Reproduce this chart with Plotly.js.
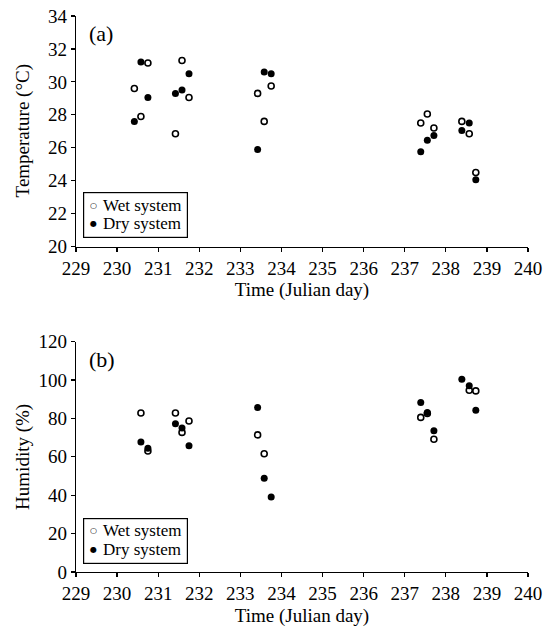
<!DOCTYPE html>
<html>
<head>
<meta charset="utf-8">
<script src="https://cdn.plot.ly/plotly-3.0.1.min.js"></script>
<style>html,body{margin:0;padding:0;background:#fff;}#chart{width:547px;height:630px;}</style>
</head>
<body>
<div id="chart"></div>
<script>
// Panel (a): temperature
const tempWetDay = [230.42, 230.58, 230.75, 231.42, 231.58, 231.75, 233.42, 233.58, 233.75, 237.39, 237.55, 237.71, 238.39, 238.57, 238.73];
const tempWet    = [29.6, 27.9, 31.15, 26.85, 31.3, 29.05, 29.3, 27.6, 29.75, 27.5, 28.05, 27.2, 27.6, 26.85, 24.5];
const tempDryDay = [230.42, 230.58, 230.75, 231.42, 231.58, 231.75, 233.42, 233.58, 233.75, 237.39, 237.55, 237.71, 238.39, 238.57, 238.73];
const tempDry    = [27.6, 31.2, 29.05, 29.3, 29.5, 30.5, 25.9, 30.6, 30.5, 25.75, 26.45, 26.75, 27.05, 27.5, 24.05];
// Panel (b): humidity
const humWetDay = [230.58, 230.75, 231.42, 231.58, 231.75, 233.42, 233.58, 237.39, 237.55, 237.71, 238.57, 238.73];
const humWet    = [82.8, 63.0, 82.8, 72.7, 78.6, 71.4, 61.6, 80.5, 82.5, 69.1, 94.6, 94.3];
const humDryDay = [230.58, 230.75, 231.42, 231.58, 231.75, 233.42, 233.58, 233.75, 237.39, 237.55, 237.71, 238.39, 238.57, 238.73];
const humDry    = [67.7, 64.4, 77.2, 75.0, 65.8, 85.6, 48.8, 39.0, 88.3, 83.1, 73.6, 100.3, 97.0, 84.2];

const xTicks = [229,230,231,232,233,234,235,236,237,238,239,240];
const tempTicks = [20,22,24,26,28,30,32,34];
const humTicks = [0,20,40,60,80,100,120];
const seriesNames = ['Wet system', 'Dry system'];
const panelLabels = ['(a)', '(b)'];
const xTitle = 'Time (Julian day)';
const yTitles = ['Temperature (°C)', 'Humidity (%)'];

const FONT = 'Liberation Serif, serif';
const BLACK = '#000';
const wetMarker = {symbol: 'circle-open', size: 6, color: BLACK, line: {width: 1.6, color: BLACK}};
const dryMarker = {symbol: 'circle', size: 7, color: BLACK};

const traces = [
  {x: tempWetDay, y: tempWet, type: 'scatter', mode: 'markers', name: seriesNames[0], marker: wetMarker, xaxis: 'x', yaxis: 'y'},
  {x: tempDryDay, y: tempDry, type: 'scatter', mode: 'markers', name: seriesNames[1], marker: dryMarker, xaxis: 'x', yaxis: 'y'},
  {x: humWetDay, y: humWet, type: 'scatter', mode: 'markers', name: seriesNames[0], marker: wetMarker, xaxis: 'x2', yaxis: 'y2'},
  {x: humDryDay, y: humDry, type: 'scatter', mode: 'markers', name: seriesNames[1], marker: dryMarker, xaxis: 'x2', yaxis: 'y2'}
];

const domA = [0.5853, 1];
const domB = [0, 0.4145];

function xAx(anchor, inside) {
  return {
    range: [229, 240], domain: [0, 1], anchor: anchor,
    tickvals: xTicks, ticktext: xTicks.map(String),
    ticks: inside ? 'inside' : 'outside', ticklen: 4, tickwidth: 1.2, tickcolor: BLACK,
    showline: true, linecolor: BLACK, linewidth: 1.3,
    showgrid: false, zeroline: false, fixedrange: true,
    showticklabels: !inside,
    tickfont: {family: FONT, size: 19, color: BLACK},
    title: inside ? undefined : {text: xTitle, font: {family: FONT, size: 19, color: BLACK}, standoff: 5}
  };
}
function yAx(anchor, dom, range, ticks, inside) {
  return {
    range: range, domain: dom, anchor: anchor,
    tickvals: ticks, ticktext: ticks.map(String),
    ticks: inside ? 'inside' : 'outside', ticklen: 4, tickwidth: 1.2, tickcolor: BLACK,
    showline: true, linecolor: BLACK, linewidth: 1.3,
    showgrid: false, zeroline: false, fixedrange: true,
    showticklabels: !inside,
    tickfont: {family: FONT, size: 19, color: BLACK}
  };
}

const x3 = xAx('y', true); x3.overlaying = 'x';
const x4 = xAx('y2', true); x4.overlaying = 'x2';
const y3 = yAx('x', domA, [20, 34], tempTicks, true); y3.overlaying = 'y';
const y4 = yAx('x2', domB, [0, 120], humTicks, true); y4.overlaying = 'y2';

// Legend and labels drawn per panel, positioned relative to each panel's domain
function panelDecor(xr, yr, label, ytitle) {
  const dom = {xref: xr + ' domain', yref: yr + ' domain', showarrow: false};
  return [
    Object.assign({}, dom, {text: label, x: 0.024, y: 0.985, xanchor: 'left', yanchor: 'top', font: {family: FONT, size: 22, color: BLACK}}),
    Object.assign({}, dom, {text: ytitle, x: -0.117, y: 0.5, xanchor: 'center', yanchor: 'middle', textangle: -90, font: {family: FONT, size: 19, color: BLACK}}),
    // legend box
    Object.assign({}, dom, {text: ' ', x: 0.016, y: 0.036, xanchor: 'left', yanchor: 'bottom', width: 103, height: 44, borderpad: 0, bordercolor: BLACK, borderwidth: 1.2, bgcolor: '#fff', font: {size: 4}}),
    Object.assign({}, dom, {text: '○', x: 0.039, y: 0.178, xanchor: 'center', yanchor: 'middle', font: {family: 'DejaVu Sans', size: 8, color: BLACK}}),
    Object.assign({}, dom, {text: '●', x: 0.039, y: 0.098, xanchor: 'center', yanchor: 'middle', font: {family: 'DejaVu Sans', size: 8, color: BLACK}}),
    Object.assign({}, dom, {text: seriesNames[0], x: 0.055, y: 0.178, xanchor: 'left', yanchor: 'middle', font: {family: FONT, size: 17, color: BLACK}}),
    Object.assign({}, dom, {text: seriesNames[1], x: 0.055, y: 0.098, xanchor: 'left', yanchor: 'middle', font: {family: FONT, size: 17, color: BLACK}})
  ];
}

const layout = {
  width: 547, height: 630,
  margin: {l: 76, r: 19, t: 16, b: 58},
  paper_bgcolor: '#fff', plot_bgcolor: '#fff',
  font: {family: FONT, color: BLACK},
  showlegend: false,
  xaxis: xAx('y', false), yaxis: yAx('x', domA, [20, 34], tempTicks, false),
  xaxis2: xAx('y2', false), yaxis2: yAx('x2', domB, [0, 120], humTicks, false),
  xaxis3: x3, yaxis3: y3, xaxis4: x4, yaxis4: y4,
  annotations: panelDecor('x', 'y', panelLabels[0], yTitles[0]).concat(panelDecor('x2', 'y2', panelLabels[1], yTitles[1]))
};

Plotly.newPlot('chart', traces, layout, {staticPlot: true, displayModeBar: false});
</script>
</body>
</html>
